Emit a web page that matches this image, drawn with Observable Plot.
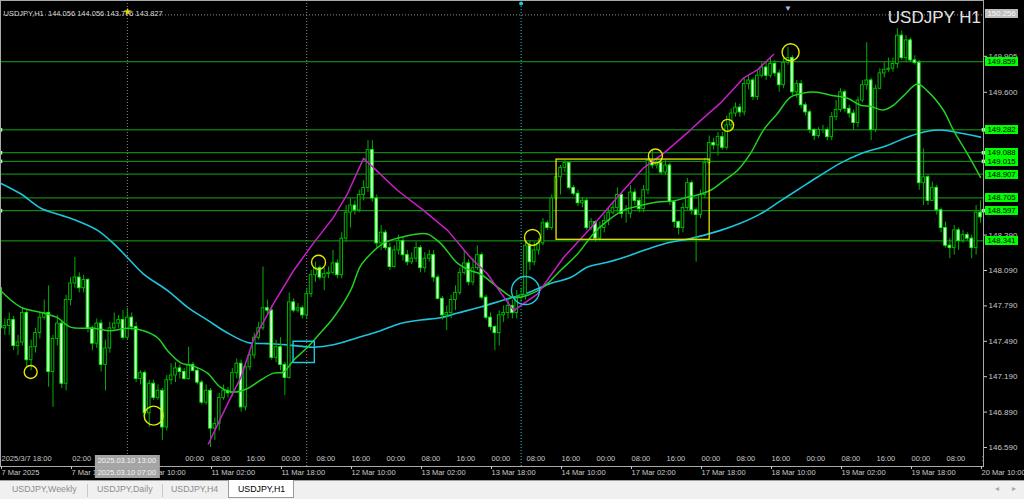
<!DOCTYPE html>
<html><head><meta charset="utf-8">
<script src="https://cdn.jsdelivr.net/npm/d3@7"></script>
<script src="https://cdn.jsdelivr.net/npm/@observablehq/plot@0.6"></script>
<style>
html,body{margin:0;padding:0;background:#000;width:1024px;height:499px;overflow:hidden;font-family:"Liberation Sans",Arial,sans-serif;}
#chart svg{display:block}
#tabs{position:relative;height:18px;background:#f0f0f0;border-top:1px solid #a0a0a0;}
#tabs .t{position:absolute;top:3px;font-size:8.8px;color:#8c8c8c;white-space:nowrap;}
#tabs .sep{position:absolute;top:3px;width:1px;height:13px;background:#c8c8c8;}
#tabs .act{position:absolute;left:228px;top:-1px;width:64px;height:17px;background:#fff;border:1px solid #9a9a9a;border-top:none;}
#tabs .act span{position:absolute;left:9px;top:4px;font-size:8.8px;color:#000;white-space:nowrap;}
#tabs .arr{position:absolute;top:3px;font-size:8px;color:#a8a8a8;}
</style></head><body>
<div id="chart"></div>
<div id="tabs">
<span class="t" style="left:12px">USDJPY,Weekly</span>
<span class="sep" style="left:87px"></span>
<span class="t" style="left:97px">USDJPY,Daily</span>
<span class="sep" style="left:162px"></span>
<span class="t" style="left:171px">USDJPY,H4</span>
<div class="act"><span>USDJPY,H1</span></div>
<span class="arr" style="left:995px">&#9666;</span><span class="arr" style="left:1012px">&#9656;</span>
</div>
<script>
// ---- data (USDJPY H1, bar index 0 = 7 Mar 02:00 server time) ----
const firstOpen = 147.94;
const closes = [147.60,147.62,147.67,147.45,147.48,147.73,147.33,147.44,147.56,147.69,
147.73,147.23,147.51,147.64,147.13,147.84,147.98,148.03,147.94,148.01,
147.60,147.47,147.64,147.29,147.43,147.60,147.64,147.67,147.52,147.69,
147.61,147.17,147.22,146.88,147.13,147.01,147.07,146.76,147.16,147.20,
147.26,147.23,147.17,147.29,147.24,147.14,146.97,147.07,146.75,146.79,
147.01,147.07,147.05,147.22,147.30,146.93,147.27,147.37,147.52,147.60,
147.77,147.75,147.35,147.44,147.29,147.18,147.82,147.75,147.77,147.71,
147.89,148.05,148.11,148.03,148.06,148.07,148.15,148.05,148.36,148.58,
148.64,148.60,148.73,148.79,149.11,148.70,148.32,148.41,148.28,148.12,
148.26,148.34,148.22,148.16,148.19,148.28,148.11,148.19,148.22,148.03,
147.85,147.71,147.73,147.84,147.90,148.07,148.15,147.99,148.11,148.22,
147.86,147.69,147.61,147.56,147.71,147.73,147.79,147.73,147.86,147.88,
148.30,148.16,148.26,148.32,148.49,148.45,148.70,148.88,148.96,149.00,
148.79,148.74,148.66,148.68,148.45,148.50,148.36,148.45,148.51,148.58,
148.62,148.73,148.57,148.57,148.75,148.68,148.61,148.77,149.02,148.98,
149.00,148.92,148.98,148.67,148.50,148.45,148.62,148.83,148.60,148.56,
148.73,149.00,149.17,149.15,149.22,149.13,149.32,149.42,149.47,149.43,
149.67,149.70,149.56,149.74,149.81,149.74,149.84,149.76,149.66,149.85,
149.89,149.60,149.67,149.49,149.43,149.28,149.23,149.28,149.28,149.22,
149.39,149.45,149.60,149.46,149.42,149.34,149.53,149.66,149.70,149.28,
149.63,149.76,149.79,149.80,149.84,150.08,149.89,150.04,149.87,149.85,
148.83,148.88,148.68,148.79,148.60,148.45,148.30,148.28,148.43,148.34,
148.39,148.36,148.28,148.58,148.54];
const highs = [148.12,147.68,147.73,147.70,147.54,147.77,147.75,147.50,147.60,147.73,
147.84,147.96,147.54,147.71,147.67,147.88,148.03,148.20,148.07,148.05,
148.02,147.62,147.68,147.67,147.50,147.65,147.73,147.71,147.75,147.77,
147.73,147.65,147.24,147.24,147.16,147.16,147.12,147.09,147.20,147.30,
147.31,147.29,147.26,147.44,147.31,147.26,147.16,147.12,147.09,146.84,
147.05,147.12,147.10,147.26,147.34,147.33,147.31,147.41,147.56,147.65,
148.12,147.84,147.79,147.50,147.52,147.31,147.90,147.85,147.81,147.79,
147.94,148.09,148.16,148.13,148.11,148.12,148.26,148.18,148.41,148.64,
148.70,148.68,148.77,148.85,149.19,149.19,148.73,148.47,148.43,148.32,
148.30,148.39,148.37,148.26,148.24,148.33,148.30,148.24,148.26,148.26,
148.05,147.87,147.79,147.88,147.96,148.11,148.26,148.18,148.19,148.30,
148.24,147.88,147.73,147.62,147.75,147.79,147.85,147.84,147.92,147.94,
148.34,148.34,148.33,148.36,148.53,148.51,148.73,148.92,148.98,149.02,
149.00,148.81,148.77,148.71,148.70,148.53,148.51,148.50,148.56,148.62,
148.67,148.79,148.74,148.64,148.81,148.78,148.70,148.81,149.04,149.11,
149.04,149.02,149.02,149.00,148.68,148.51,148.66,148.87,148.85,148.62,
148.77,149.04,149.23,149.21,149.26,149.26,149.40,149.46,149.51,149.50,
149.72,149.74,149.72,149.79,149.85,149.85,149.89,149.87,149.79,149.89,
149.98,149.91,149.70,149.70,149.51,149.45,149.29,149.30,149.32,149.30,
149.43,149.53,149.63,149.62,149.49,149.45,149.56,149.70,150.02,149.72,
149.66,149.80,149.85,149.89,149.89,150.14,150.12,150.08,150.06,149.91,
149.87,149.12,148.90,148.84,148.81,148.62,148.50,148.36,148.47,148.45,
148.43,148.41,148.39,148.64,148.68];
const lows = [147.56,147.54,147.54,147.41,147.37,147.45,147.26,147.24,147.39,147.51,
147.67,147.10,146.93,147.45,147.09,147.07,147.79,147.94,147.90,147.90,
147.56,147.41,147.43,147.23,147.07,147.39,147.58,147.60,147.50,147.50,
147.58,147.14,147.12,146.84,146.76,146.99,146.99,146.65,146.73,147.12,
147.14,147.17,147.16,147.16,147.23,147.12,146.95,146.95,146.59,146.65,
146.73,146.99,147.01,147.02,147.17,146.89,146.90,147.24,147.34,147.50,
147.58,147.71,147.33,147.31,147.24,147.03,147.17,147.73,147.73,147.68,
147.68,147.86,147.99,148.01,147.92,148.02,148.05,148.02,148.02,148.33,
148.45,148.56,148.58,148.68,148.75,148.67,148.28,148.26,148.26,148.09,
148.11,148.22,148.17,148.13,148.14,148.16,148.07,148.07,148.16,147.99,
147.84,147.67,147.58,147.68,147.75,147.88,148.05,147.96,147.96,148.09,
147.84,147.67,147.58,147.41,147.45,147.65,147.68,147.68,147.68,147.82,
147.84,148.09,148.13,148.22,148.30,148.43,148.43,148.68,148.73,148.92,
148.77,148.72,148.63,148.62,148.43,148.43,148.33,148.34,148.41,148.47,
148.56,148.58,148.53,148.49,148.53,148.64,148.58,148.58,148.73,148.95,
148.95,148.90,148.90,148.64,148.45,148.39,148.41,148.60,148.56,148.16,
148.53,148.70,148.98,149.11,149.06,149.11,149.11,149.28,149.39,149.39,
149.40,149.62,149.53,149.53,149.72,149.70,149.72,149.73,149.60,149.63,
149.83,149.57,149.55,149.46,149.40,149.25,149.19,149.21,149.25,149.19,
149.19,149.36,149.43,149.43,149.38,149.28,149.30,149.51,149.62,149.19,
149.26,149.62,149.72,149.77,149.77,149.80,149.87,149.85,149.85,149.83,
148.77,148.64,148.64,148.68,148.56,148.41,148.28,148.19,148.22,148.26,
148.32,148.34,148.19,148.22,148.49];

// moving averages (bar index, price)
const maFastIdx = [0,4.6,9.8,13,16,21.3,25.1,29,32.7,35.9,38.2,41.1,44.1,47.3,50.3,53.3,56.5,59.4,62.4,64.7,67,70.2,73.1,76.1,80,82.3,84.6,87.5,91.4,95.3,97.6,100.6,104.5,107.4,109.7,113.6,117.3,120.5,124.1,128,131.9,135.5,138.7,142.4,146.3,150.2,153.8,157,159.3,162.3,165.3,168.5,171.4,174.4,177.6,180.6,184.5,186.7,190.4,193.6,196.6,198.9,201.8,204.1,206.4,209.6,211.9,215.5,217.8,221,224];
const maFastVal = [147.92,147.78,147.73,147.69,147.61,147.60,147.58,147.60,147.58,147.52,147.41,147.31,147.28,147.22,147.10,147.06,147.09,147.16,147.22,147.23,147.33,147.44,147.56,147.69,147.92,148.13,148.23,148.32,148.37,148.40,148.40,148.32,148.15,148.09,148.06,147.95,147.86,147.88,147.95,148.09,148.23,148.40,148.51,148.60,148.64,148.67,148.68,148.71,148.73,148.77,148.85,148.94,149.08,149.28,149.42,149.56,149.60,149.60,149.57,149.55,149.49,149.48,149.45,149.49,149.57,149.67,149.61,149.45,149.28,149.08,148.88];
const maSlowIdx = [0,4.6,9.1,13.7,17.6,22.2,25.8,29,32.7,38.2,42.7,47.3,51.9,56.5,61,65.6,71.5,76.1,81.6,86.9,91.4,96,100.6,104.5,109.7,115,120.5,125.7,130.3,134.2,138.7,144,149.3,153.1,157.7,164.6,169.1,173.7,178.3,182.9,186.7,192,196.6,202.7,208,211.9,214.9,218.7,224];
const maSlowVal = [148.83,148.74,148.62,148.56,148.51,148.43,148.32,148.20,148.06,147.92,147.78,147.67,147.56,147.48,147.47,147.46,147.44,147.46,147.52,147.58,147.64,147.67,147.69,147.73,147.78,147.84,147.90,147.98,148.03,148.12,148.16,148.22,148.29,148.33,148.36,148.43,148.49,148.57,148.68,148.79,148.88,149.00,149.08,149.15,149.23,149.27,149.28,149.26,149.22];
const trendIdx = [47.5,51.9,54.9,57.8,62.4,67,71.5,76.1,79.3,83,85.3,90.7,96.7,102.2,107.4,111.3,117.3,122.7,128.7,134.9,141,147,151.5,157.7,160,164.6,169.8,173,176.7];
const trendVal = [146.62,146.96,147.18,147.50,147.81,148.09,148.32,148.54,148.74,149.04,148.96,148.77,148.60,148.43,148.20,148.06,147.75,147.89,148.20,148.45,148.71,148.96,149.08,149.28,149.36,149.51,149.72,149.79,149.92];

// horizontal levels and annotations
const levelPrices = [149.859,149.282,149.088,149.015,148.907,148.705,148.597,148.341];
const markedLevels = [149.282,149.088,149.015,148.597];
const yTicks = [149.905,149.600,148.390,148.090,147.790,147.490,147.190,146.890,146.590];
const boxIdx = [127.1,162.1], boxPrice = [148.35,149.03];
const scribIdx = [6.9,35,72.7,121.6,149.7,166.2,180.6];
const scribPrice = [147.23,146.86,148.16,148.37,149.06,149.32,149.94];
const scribR = [6.5,9.5,7,8,7,6,8.5];
const ringIdx = [69.3,120], ringPrice = [147.40,147.92], ringR = [12,14], ringSym = ["square","circle"];
const crossIdx = 29, crossPrice = 150.256;
const crossTopText = "2025.03.10 13:00", crossBottomText = "2025.03.10 07:00";
const sepIdx = 70, vlineIdx = 119, shiftIdx = 180;
const headerText = "USDJPY,H1  144.056 144.056 143.776 143.827";
const titleText = "USDJPY H1";

const bottomTickIdx = [0,16,32,48,64,80,96,112,128,144,160,176,192,208,224];
const bottomTickText = ["7 Mar 2025","7 Mar 18:00","10 Mar 10:00","11 Mar 02:00","11 Mar 18:00","12 Mar 10:00","13 Mar 02:00","13 Mar 18:00","14 Mar 10:00","17 Mar 02:00","17 Mar 18:00","18 Mar 10:00","19 Mar 02:00","19 Mar 18:00","20 Mar 10:00"];
const jstTickIdx = [0,16.2,42,48,56,64,72,80,88,96,104,112,120,128,136,144,152,160,168,176,184,192,200,208,216,224];
const jstTickText = ["2025/3/7 18:00","02:00","00:00","08:00","16:00","00:00","08:00","16:00","00:00","08:00","16:00","00:00","08:00","16:00","00:00","08:00","16:00","00:00","08:00","16:00","00:00","08:00","16:00","00:00","08:00","16:00"];

// ---- tables ----
const bars = closes.map((c,i)=>({i, o: i ? closes[i-1] : firstOpen, c, h: highs[i], l: lows[i]}));
const bull = bars.filter(d => d.c >= d.o), bear = bars.filter(d => d.c < d.o);
const maFast = maFastIdx.map((x,k)=>({x, y: maFastVal[k]}));
const maSlow = maSlowIdx.map((x,k)=>({x, y: maSlowVal[k]}));
const trend = trendIdx.map((x,k)=>({x, y: trendVal[k]}));
const scribs = scribIdx.map((x,k)=>({x, y: scribPrice[k], r: scribR[k]}));
const rings = ringIdx.map((x,k)=>({x, y: ringPrice[k], r: ringR[k], s: ringSym[k]}));
const jst = jstTickIdx.map((x,k)=>({x, t: jstTickText[k]}));
const FONT = "Liberation Sans, Arial, sans-serif";

function overlay(index, scales, values, dims) {
  const xr = dims.width - dims.marginRight;
  const yb = dims.height - dims.marginBottom;
  const g = d3.create("svg:g").attr("font-family", FONT).attr("text-anchor", "start");
  for (const p of levelPrices) {
    const y = Math.round(scales.y(p));
    g.append("rect").attr("x", xr + 2).attr("y", y - 4).attr("width", 33).attr("height", 9).attr("fill", "#00ff00");
    g.append("text").attr("x", xr + 4.5).attr("y", y + 0.5).attr("dy", "0.36em").attr("text-anchor", "start").attr("font-size", 7.8).attr("fill", "#000").text(p.toFixed(3));
  }
  const cy = Math.round(scales.y(crossPrice));
  g.append("rect").attr("x", xr + 2).attr("y", cy - 5).attr("width", 33).attr("height", 9).attr("fill", "#bdbdbd");
  g.append("text").attr("x", xr + 4.5).attr("y", cy - 0.5).attr("dy", "0.36em").attr("text-anchor", "start").attr("font-size", 7.8).attr("fill", "#f8f8f8").text(crossPrice.toFixed(3));
  const cx = scales.x(crossIdx);
  g.append("rect").attr("x", cx - 32).attr("y", yb - 11).attr("width", 65).attr("height", 11).attr("fill", "#a4a4a4");
  g.append("text").attr("x", cx).attr("y", yb - 5.5).attr("dy", "0.36em").attr("text-anchor", "middle").attr("font-size", 7.5).attr("fill", "#f4f4f4").text(crossTopText);
  g.append("rect").attr("x", cx - 32).attr("y", yb + 1).attr("width", 65).attr("height", 11).attr("fill", "#a4a4a4");
  g.append("text").attr("x", cx).attr("y", yb + 6.5).attr("dy", "0.36em").attr("text-anchor", "middle").attr("font-size", 7.5).attr("fill", "#f4f4f4").text(crossBottomText);
  g.append("text").attr("x", xr - 2).attr("y", 22.5).attr("text-anchor", "end").attr("font-size", 17).attr("fill", "#e4e4e4").text(titleText);
  return g.node();
}

const chart = Plot.plot({
  width: 1024, height: 480,
  marginLeft: 0, marginRight: 41, marginTop: 0, marginBottom: 14,
  x: {domain: [0, 224.69]},
  y: {domain: [146.429, 150.378]},
  r: {type: "identity"},
  style: {background: "#000", color: "#c8c8c8", fontFamily: FONT, overflow: "visible"},
  marks: [
    Plot.ruleY(levelPrices, {stroke: "#14a814", strokeWidth: 1}),
    Plot.ruleX([crossIdx], {stroke: "#8c8c8c", strokeDasharray: "1,2"}),
    Plot.ruleX([sepIdx], {stroke: "#8c8c8c", strokeDasharray: "1,2"}),
    Plot.ruleX([vlineIdx], {stroke: "#1ec8dc", strokeDasharray: "1,2"}),
    Plot.ruleY([crossPrice], {stroke: "#8c8c8c", strokeDasharray: "1,2"}),
    Plot.line(maSlow, {x: "x", y: "y", stroke: "#1ec4dc", strokeWidth: 1.6, curve: "catmull-rom"}),
    Plot.ruleX(bars, {x: "i", y1: "l", y2: "h", stroke: "#00b000", strokeWidth: 1}),
    Plot.rect(bull, {x1: d => d.i - 0.3, x2: d => d.i + 0.3, y1: "o", y2: "c", fill: "#000", stroke: "#00b400", strokeWidth: 1}),
    Plot.rect(bear, {x1: d => d.i - 0.3, x2: d => d.i + 0.3, y1: "o", y2: "c", fill: "#effff0", stroke: "#00ff00", strokeWidth: 1}),
    Plot.line(maFast, {x: "x", y: "y", stroke: "#22d022", strokeWidth: 1.5, curve: "catmull-rom"}),
    Plot.line(trend, {x: "x", y: "y", stroke: "#c81ec8", strokeWidth: 1.5}),
    Plot.rect([0], {x1: () => boxIdx[0], x2: () => boxIdx[1], y1: () => boxPrice[0], y2: () => boxPrice[1], fill: "none", stroke: "#e6e600", strokeWidth: 1.3}),
    Plot.dot(scribs, {x: "x", y: "y", r: "r", stroke: "#e6e600", strokeWidth: 1.4, fill: "none"}),
    Plot.dot(rings, {x: "x", y: "y", r: "r", symbol: "s", stroke: "#1ec8dc", strokeWidth: 1.4, fill: "none"}),
    Plot.dot(markedLevels, {y: d => d, frameAnchor: "left", symbol: "square", r: 2, fill: "#a8ffa8", stroke: "none"}),
    Plot.dot(markedLevels, {y: d => d, frameAnchor: "right", symbol: "square", r: 2, fill: "#a8ffa8", stroke: "none"}),
    Plot.dot([vlineIdx], {x: d => d, frameAnchor: "top", dy: 3, r: 2, fill: "#1ec8dc", stroke: "none"}),
    Plot.text([shiftIdx], {x: d => d, text: () => "\u25BC", frameAnchor: "top", dy: 5, fill: "#a8bcd0", fontSize: 8}),
    Plot.text([headerText], {text: d => d, frameAnchor: "top-left", textAnchor: "start", dx: 3, dy: 10, fill: "#d8d8d8", fontSize: 7.5}),
    Plot.text([crossIdx], {x: d => d, text: () => "\u2605", frameAnchor: "top", dy: 7, fill: "#e8d800", fontSize: 10}),
    Plot.text(jst, {x: "x", text: "t", frameAnchor: "bottom", dy: -6, dx: 1, textAnchor: "start", fill: "#c8c8c8", fontSize: 7.5, clip: true}),
    Plot.frame({stroke: "#a8a8a8"}),
    Plot.axisY({anchor: "right", ticks: yTicks, tickFormat: d => d.toFixed(3), tickSize: 3, tickPadding: 2, fontSize: 8, color: "#c8c8c8", label: null}),
    Plot.axisX({anchor: "bottom", ticks: bottomTickIdx, tickFormat: d => bottomTickText[bottomTickIdx.indexOf(d)], tickSize: 3, tickPadding: 0, textAnchor: "start", dx: 1, fontSize: 7.5, color: "#c8c8c8", label: null}),
    overlay
  ]
});
document.getElementById("chart").append(chart);
</script>
</body></html>
